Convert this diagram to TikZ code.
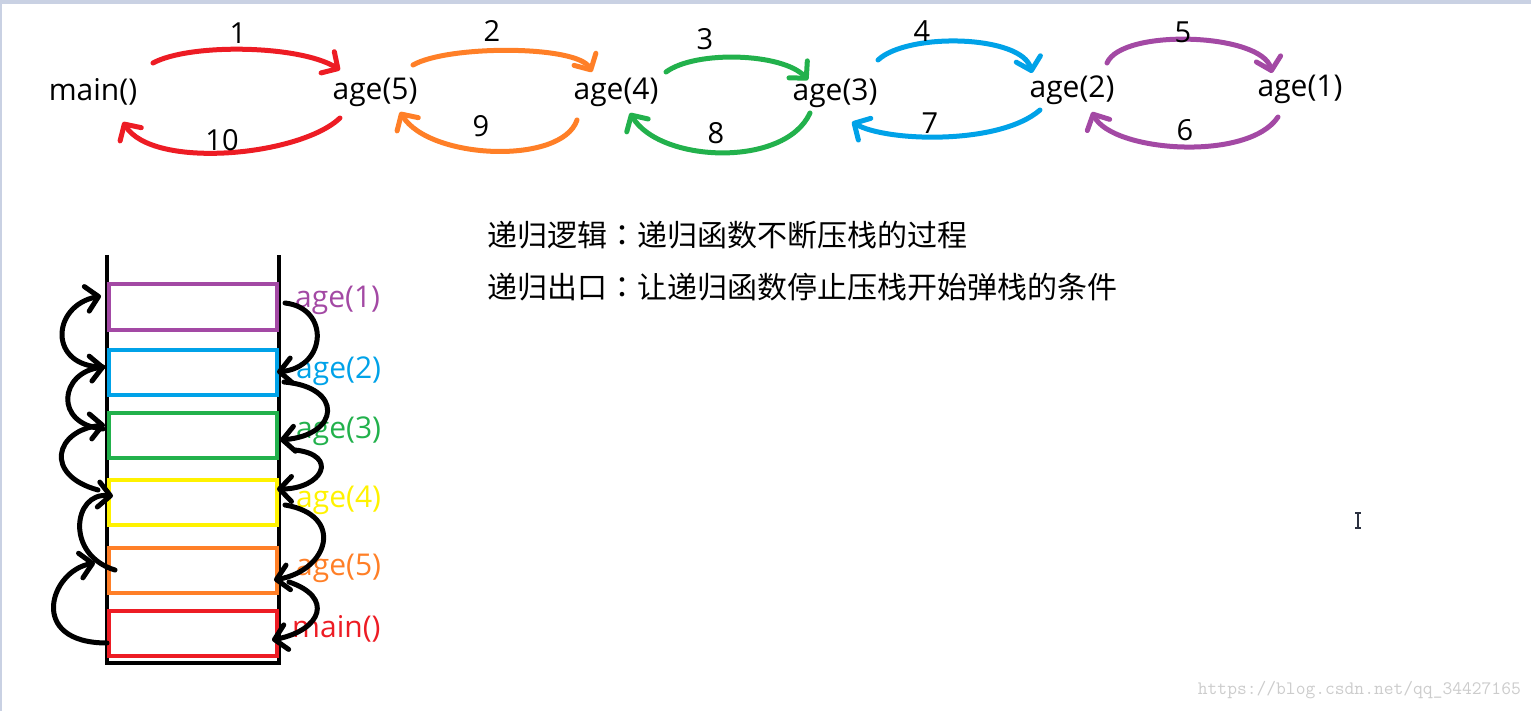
\documentclass[tikz,border=0pt]{standalone}
\usepackage{fontspec}
\setmainfont{Open Sans}
\newfontfamily\cjk{Noto Sans CJK SC}
\newfontfamily\cjkcolon{Noto Sans CJK TC}
\usetikzlibrary{arrows.meta,calc}
\definecolor{pRed}{HTML}{ED1C24}
\definecolor{pOrange}{HTML}{FF7F27}
\definecolor{pGreen}{HTML}{22B14C}
\definecolor{pBlue}{HTML}{00A2E8}
\definecolor{pPurple}{HTML}{A349A4}
\definecolor{pYellow}{HTML}{FFF200}
\definecolor{stripe}{HTML}{C9D1E3}
\newcommand{\fullcolon}{{\cjkcolon ：}}

\begin{document}
\begin{tikzpicture}[
  x=1pt, y=1pt,
  call/.style={font=\fontsize{30}{34}\selectfont, inner sep=0pt},
  num/.style={font=\fontsize{29}{34}\selectfont, inner sep=0pt},
  frame/.style={draw, line width=4pt, minimum width=168pt, minimum height=45pt, inner sep=0pt},
  tag/.style={font=\fontsize{30}{34}\selectfont, inner sep=0pt, anchor=west},
  note/.style={font=\cjk\fontsize{30}{36}\selectfont, inner sep=0pt, anchor=west},
  hand/.style={line width=5pt, line cap=round, -{Straight Barb[length=12pt,width=25pt,round]}}
]
\useasboundingbox (0,0) rectangle (1531,-711);
\fill[stripe] (0,0) rectangle (1531,-4);
\fill[stripe] (0,0) rectangle (2,-711);

% ---------------- call chain ----------------
\node[call] (main) at (93,-92) {main()};
\node[call] (a5) at (375,-92) {age(5)};
\node[call] (a4) at (616,-92) {age(4)};
\node[call] (a3) at (835,-93) {age(3)};
\node[call] (a2) at (1072,-90) {age(2)};
\node[call] (a1) at (1300,-89) {age(1)};

% calls (over the top)
\draw[hand, pRed] ([shift={(60,29)}]main.center) .. controls +(37,20) and +(-40,25) .. ([shift={(-35,22)}]a5.center);
\draw[hand, pOrange] ([shift={(38,27)}]a5.center) .. controls +(35,20) and +(-15,27) .. ([shift={(-24,20)}]a4.center);
\draw[hand, pGreen] ([shift={(50,20)}]a4.center) .. controls +(30,22) and +(-25,27) .. ([shift={(-27,13)}]a3.center);
\draw[hand, pBlue] ([shift={(43,33)}]a3.center) .. controls +(30,28) and +(-10,38) .. ([shift={(-40,17)}]a2.center);
\draw[hand, pPurple] ([shift={(35,27)}]a2.center) .. controls +(15,35) and +(-10,40) .. ([shift={(-28,16)}]a1.center);

% returns (underneath)
\draw[hand, pPurple] ([shift={(-22,-28)}]a1.center) .. controls +(-30,-45) and +(20,-40) .. ([shift={(20,-22)}]a2.center);
\draw[hand, pBlue] ([shift={(-32,-20)}]a2.center) .. controls +(-40,-35) and +(35,-20) .. ([shift={(17,-29)}]a3.center);
\draw[hand, pGreen] ([shift={(-25,-20)}]a3.center) .. controls +(-25,-55) and +(30,-50) .. ([shift={(14,-21)}]a4.center);
\draw[hand, pOrange] ([shift={(-39,-28)}]a4.center) .. controls +(-15,-45) and +(30,-48) .. ([shift={(25,-20)}]a5.center);
\draw[hand, pRed] ([shift={(-35,-26)}]a5.center) .. controls +(-40,-38) and +(30,-48) .. ([shift={(30,-30)}]main.center);

% step numbers
\node[num] (s1) at (238,-33) {1};
\node[num] (s2) at (492,-31) {2};
\node[num] (s3) at (705,-39) {3};
\node[num] (s4) at (922,-31) {4};
\node[num] (s5) at (1183,-32) {5};
\node[num] (s6) at (1185,-130) {6};
\node[num] (s7) at (930,-123) {7};
\node[num] (s8) at (716,-133) {8};
\node[num] (s9) at (481,-126) {9};
\node[num] (s10) at (222,-140) {10};

% ---------------- notes ----------------
\node[note] (logic) at (487,-235) {递归逻辑\fullcolon 递归函数不断压栈的过程};
\node[note] (exit) at (487,-287) {递归出口\fullcolon 让递归函数停止压栈开始弹栈的条件};

% ---------------- stack ----------------
\draw[line width=4pt] (107,-255) -- (107,-663) -- (279,-663) -- (279,-255);

\node[frame, draw=pPurple] (f1) at (193,-307) {};
\node[frame, draw=pBlue] (f2) at (193,-372) {};
\node[frame, draw=pGreen] (f3) at (193,-435) {};
\node[frame, draw=pYellow] (f4) at (193,-502) {};
\node[frame, draw=pOrange] (f5) at (193,-570) {};
\node[frame, draw=pRed] (f6) at (193,-633) {};

\node[tag, text=pPurple] (t1) at (295,-300) {age(1)};
\node[tag, text=pBlue] (t2) at (296,-371) {age(2)};
\node[tag, text=pGreen] (t3) at (296,-431) {age(3)};
\node[tag, text=pYellow] (t4) at (296,-500) {age(4)};
\node[tag, text=pOrange] (t5) at (296,-568) {age(5)};
\node[tag, text=pRed] (t6) at (292,-629) {main()};

% push (left side)
\draw[hand] ([shift={(0,-10)}]f6.west) .. controls +(-80,0) and +(-45,-8) .. ([shift={(-12,7)}]f5.west);
\draw[hand] ([shift={(8,0)}]f5.west) .. controls +(-50,15) and +(-40,4) .. ([shift={(6,6)}]f4.west);
\draw[hand] ([shift={(-9,12)}]f4.west) .. controls +(-55,15) and +(-50,-5) .. ([shift={(-2,10)}]f3.west);
\draw[hand] ([shift={(-4,6)}]f3.west) .. controls +(-50,5) and +(-45,-5) .. ([shift={(-2,5)}]f2.west);
\draw[hand] ([shift={(-4,5)}]f2.west) .. controls +(-55,0) and +(-50,-10) .. ([shift={(-6,11)}]f1.west);

% pop (right side)
\draw[hand] ([shift={(6,4)}]f1.east) .. controls +(45,-5) and +(50,5) .. ([shift={(-2,0)}]f2.east);
\draw[hand] ([shift={(5,-10)}]f2.east) .. controls +(60,-5) and +(60,5) .. ([shift={(1,-5)}]f3.east);
\draw[hand] ([shift={(16,-15)}]f3.east) .. controls +(45,-5) and +(45,0) .. ([shift={(-2,13)}]f4.east);
\draw[hand] ([shift={(6,-3)}]f4.east) .. controls +(60,-10) and +(55,10) .. ([shift={(-5,-10)}]f5.east);
\draw[hand] ([shift={(10,-12)}]f5.east) .. controls +(45,-15) and +(50,10) .. ([shift={(-7,-7)}]f6.east);

% cursor and watermark
\draw[line width=1.5pt, color={rgb,255:red,43;green,49;blue,64}] (1355,-513) -- (1361,-513) (1358,-513) -- (1358,-528) (1355,-528) -- (1361,-528);
\node[font=\ttfamily\fontsize{19}{22}\selectfont, text=black!20, inner sep=0pt, anchor=east] (mark) at (1521,-690) {https://blog.csdn.net/qq\_34427165};
\end{tikzpicture}
\end{document}
